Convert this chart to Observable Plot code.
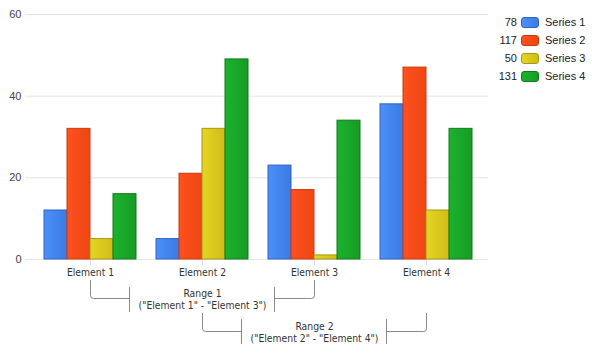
<!DOCTYPE html>
<html><head><meta charset="utf-8">
<script src="https://cdn.jsdelivr.net/npm/d3@7"></script>
<script src="https://cdn.jsdelivr.net/npm/@observablehq/plot@0.6"></script>
<style>
body{margin:0;background:#fff;}
#wrap{position:relative;width:592px;height:354px;overflow:hidden;}
#legend{position:absolute;left:0;top:0;font:11px "Liberation Sans",Arial,sans-serif;color:#222;}
.num{position:absolute;width:40px;text-align:right;line-height:14px;}
.sw{position:absolute;width:16px;height:9px;border-radius:3px;border:1px solid;}
.lab{position:absolute;line-height:14px;white-space:nowrap;}
</style></head>
<body>
<svg width="0" height="0" style="position:absolute">
  <defs>
    <linearGradient id="grad0" x1="0" x2="1" y1="0" y2="0"><stop offset="0" stop-color="#4d90fa"/><stop offset="1" stop-color="#3b7be3"/></linearGradient>
    <linearGradient id="grad1" x1="0" x2="1" y1="0" y2="0"><stop offset="0" stop-color="#ff5020"/><stop offset="1" stop-color="#ec4713"/></linearGradient>
    <linearGradient id="grad2" x1="0" x2="1" y1="0" y2="0"><stop offset="0" stop-color="#e6d424"/><stop offset="1" stop-color="#cfbd1a"/></linearGradient>
    <linearGradient id="grad3" x1="0" x2="1" y1="0" y2="0"><stop offset="0" stop-color="#1bb22d"/><stop offset="1" stop-color="#169c26"/></linearGradient>
  </defs>
</svg>
<div id="wrap"><div id="legend"></div></div>
<script>
const elements = ["Element 1", "Element 2", "Element 3", "Element 4"];
const seriesNames = ["Series 1", "Series 2", "Series 3", "Series 4"];
const series1 = [12, 5, 23, 38];
const series2 = [32, 21, 17, 47];
const series3 = [5, 32, 1, 12];
const series4 = [16, 49, 34, 32];
const yTicks = [0, 20, 40, 60];
const rangeLabels = ["Range 1", "Range 2"];
const rangeFrom = ["Element 1", "Element 2"];
const rangeTo = ["Element 3", "Element 4"];

const seriesValues = [series1, series2, series3, series4];
const fills = ["url(#grad0)", "url(#grad1)", "url(#grad2)", "url(#grad3)"];
const cssFills = ["linear-gradient(90deg,#4d90fa,#3b7be3)", "linear-gradient(90deg,#ff5020,#ec4713)", "linear-gradient(90deg,#e6d424,#cfbd1a)", "linear-gradient(90deg,#1bb22d,#169c26)"];
const borders = ["#2f63c2", "#c93a0e", "#a89812", "#117a1c"];

const table = [];
seriesValues.forEach((vals, si) => vals.forEach((v, ei) => table.push({element: elements[ei], series: seriesNames[si], si, value: v})));

const condensed = "'DejaVu Sans Condensed','DejaVu Sans',sans-serif";
const barW = 23;

function rangeMark(index, scales) {
  const x = scales.x, y = scales.y;
  const bw = typeof x.bandwidth === "function" ? x.bandwidth() : (x.bandwidth || 0);
  const base = y(0);
  const g = d3.create("svg:g").attr("fill", "none");
  rangeLabels.forEach((label, k) => {
    const x1 = Math.round(x(rangeFrom[k]) + bw / 2) + 0.5;
    const x2 = Math.round(x(rangeTo[k]) + bw / 2) + 0.5;
    const cx = (x1 + x2) / 2;
    const top = base + 21 + 33 * k;
    const hy = Math.round(base + 39 + 33 * k) + 0.5;
    const bTop = base + 28 + 32 * k, bBot = base + 53 + 32 * k;
    const bl = Math.round(cx - 72.5) - 0.5, br = Math.round(cx + 72.5) - 0.5;
    const r = 3;
    g.append("path").attr("stroke", "#8a8a8a").attr("d",
      `M${x1},${top}V${hy - r}Q${x1},${hy} ${x1 + r},${hy}H${bl}` +
      `M${x2},${top}V${hy - r}Q${x2},${hy} ${x2 - r},${hy}H${br}` +
      `M${bl},${bTop}V${bBot}M${br},${bTop}V${bBot}`);
    const t = g.append("text").attr("fill", "#333").attr("text-anchor", "middle")
      .attr("font-family", condensed).attr("font-size", 10.3);
    t.append("tspan").attr("x", cx).attr("y", base + 38 + 33 * k).text(label);
    t.append("tspan").attr("x", cx).attr("y", base + 50 + 33 * k).text(`("${rangeFrom[k]}" - "${rangeTo[k]}")`);
  });
  return g.node();
}

const chart = Plot.plot({
  width: 592,
  height: 354,
  marginLeft: 25,
  marginRight: 104,
  marginTop: 14,
  marginBottom: 95,
  x: {domain: elements, paddingInner: 20 / 112, paddingOuter: 10 / 112, insetLeft: 9, insetRight: 6, label: null},
  y: {domain: [0, 60], label: null},
  marks: [
    Plot.ruleY(yTicks, {stroke: "#e4e4e4"}),
    Plot.axisY(yTicks, {tickSize: 0, tickPadding: 4, label: null, fill: "#444", fontSize: 11, fontFamily: "'Liberation Sans',Arial,sans-serif"}),
    Plot.axisX({tickSize: 6, tickPadding: 3, label: null, stroke: "#e0e0e0", fill: "#333", fontSize: 10.3, fontFamily: condensed}),
    ...seriesNames.map((s, si) => Plot.barY(table.filter(d => d.si === si), {
      x: "element", y: "value", fill: fills[si], stroke: borders[si], strokeWidth: 1,
      insetLeft: barW * si, insetRight: barW * (3 - si)
    })),
    rangeMark
  ]
});
document.getElementById("wrap").prepend(chart);

const legend = document.getElementById("legend");
seriesNames.forEach((s, i) => {
  const cy = 22 + 18 * i;
  const total = d3.sum(seriesValues[i]);
  const n = document.createElement("div"); n.className = "num";
  n.style.left = (517 - 40) + "px"; n.style.top = (cy - 7) + "px"; n.textContent = total;
  const sw = document.createElement("div"); sw.className = "sw";
  sw.style.left = "521px"; sw.style.top = (cy - 5) + "px"; sw.style.background = cssFills[i]; sw.style.borderColor = borders[i];
  const l = document.createElement("div"); l.className = "lab";
  l.style.left = "545px"; l.style.top = (cy - 7) + "px"; l.textContent = s;
  legend.append(n, sw, l);
});
</script>
</body></html>
